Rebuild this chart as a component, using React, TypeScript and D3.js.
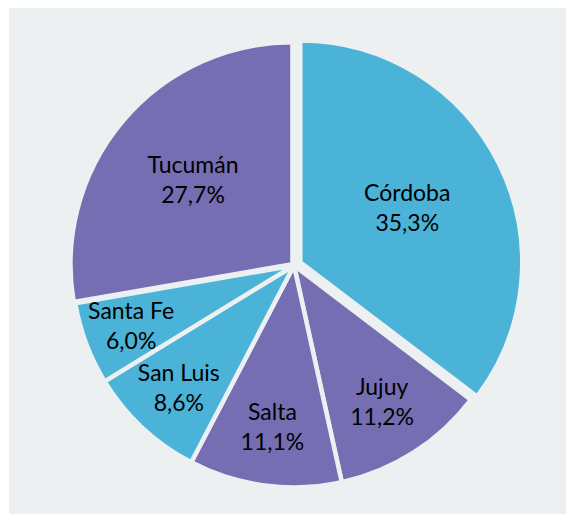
import React from "react";
import * as d3 from "d3";

const categories = ["Córdoba", "Jujuy", "Salta", "San Luis", "Santa Fe", "Tucumán"];
const values = [35.3, 11.2, 11.1, 8.6, 6.0, 27.7];
const valueLabels = ["35,3%", "11,2%", "11,1%", "8,6%", "6,0%", "27,7%"];

const BLUE = "#4BB3D8";
const PURPLE = "#766EB2";
const sliceColors = [BLUE, PURPLE, PURPLE, BLUE, BLUE, PURPLE];
const BG = "#ECF0F1";

const W = 566;
const H = 514;
const CX = 294;
const CY = 265.5;
const R = 222;
const explodeBy: Record<string, number> = { "Córdoba": 7, "Tucumán": 2 };

export default function App() {
  const pie = d3.pie<number>().sort(null).startAngle(0).endAngle(2 * Math.PI);
  const arcs = pie(values);
  const arc = d3.arc<d3.PieArcDatum<number>>().innerRadius(0).outerRadius(R);

  return (
    <div style={{ position: "fixed", left: 0, top: 0, width: W, height: H }}>
      <svg width={W} height={H} style={{ display: "block" }}>
        <rect x={9} y={8} width={W - 9} height={H - 8} fill={BG} />
        {arcs.map((a, i) => {
          const mid = (a.startAngle + a.endAngle) / 2;
          const e = explodeBy[categories[i]] || 0;
          const ox = CX + e * Math.sin(mid);
          const oy = CY - e * Math.cos(mid);
          const half = (a.endAngle - a.startAngle) / 2;
          const centroidRatio = (2 * Math.sin(half)) / (3 * half);
          const fitRatio = 0.84 - 0.3 * Math.sin(half);
          const ratio = Math.min(centroidRatio, fitRatio) < 0.6 ? centroidRatio : fitRatio;
          const lr = ratio * R;
          const lx = lr * Math.sin(mid);
          const ly = -lr * Math.cos(mid);
          return (
            <g key={categories[i]} transform={`translate(${ox},${oy})`}>
              <path d={arc(a) || ""} fill={sliceColors[i]} stroke={BG} strokeWidth={4.5} strokeLinejoin="miter" />
              <text
                textAnchor="middle"
                fontFamily="Lato, 'Noto Sans', sans-serif"
                fontSize={23}
                fill="#000"
              >
                <tspan x={lx} y={ly - 8}>{categories[i]}</tspan>
                <tspan x={lx} y={ly + 22}>{valueLabels[i]}</tspan>
              </text>
            </g>
          );
        })}
      </svg>
    </div>
  );
}
